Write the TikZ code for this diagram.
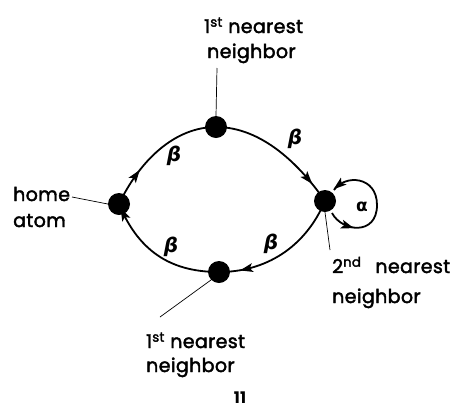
\documentclass[tikz,border=0pt]{standalone}
\usepackage{fontspec}
\setmainfont{Poppins}
\newfontfamily\lblfont{Poppins}[FakeBold=2.2,LetterSpace=2]
\newfontfamily\greek{DejaVu Sans}
\usetikzlibrary{decorations.markings}
\begin{document}
\begin{tikzpicture}[x=1pt,y=-1pt,
  atom/.style={circle,fill=black,inner sep=0pt,minimum size=22pt},
  lbl/.style={font=\fontsize{19}{25}\selectfont\lblfont,inner sep=0pt,anchor=base west},
  grk/.style={font=\fontsize{20}{20}\selectfont\greek\itshape\bfseries,inner sep=0pt},
  lead/.style={line width=0.7pt},
  curve/.style={line width=1.8pt},
  mk/.style={postaction={decorate,decoration={markings,mark=at position #1 with {\fill (6pt,0pt) -- (-7pt,4.5pt) -- (-4pt,0pt) -- (-7pt,-4.5pt) -- cycle;}}}}
]
\useasboundingbox (0,0) rectangle (466,408);
\node[atom] (home) at (119,204) {};
\node[atom] (top) at (216,127) {};
\node[atom] (sec) at (325,201) {};
\node[atom] (bot) at (219,272) {};

\draw[curve,mk=0.26] (home.center) .. controls (140,160) and (175,127) .. (top.center);
\draw[curve,mk=0.8] (top.center) .. controls (262,127) and (300,165) .. (sec.center);
\draw[curve,mk=0.8] (sec.center) .. controls (305,248) and (265,272) .. (bot.center);
\draw[curve,mk=0.92] (bot.center) .. controls (175,272) and (140,255) .. (home.center);

\coordinate (l1) at (332,213);
\coordinate (l2) at (334,190);
\draw[curve,mk=0.17,mk=0.95] (l1) .. controls (342,232) and (377,236) .. (377,205) .. controls (377,176) and (345,174) .. (l2);

\node[grk] (b1) at (174,156) {β};
\node[grk] (b2) at (295,139) {β};
\node[grk] (b3) at (171,247) {β};
\node[grk] (b4) at (271,244) {β};
\node[font=\fontsize{17}{17}\selectfont\greek\bfseries,inner sep=0pt] (al) at (362,207) {α};

\node[lbl] (t1a) at (204,33) {1\textsuperscript{st} nearest};
\node[lbl] (t1b) at (207,58) {neighbor};
\node[lbl] (t2a) at (13,201) {home};
\node[lbl] (t2b) at (13,227) {atom};
\node[lbl] (t3a) at (332,273) {2\textsuperscript{nd}\hspace{14pt}nearest};
\node[lbl] (t3b) at (332,303) {neighbor};
\node[lbl] (t4a) at (146,348) {1\textsuperscript{st} nearest};
\node[lbl] (t4b) at (146,372) {neighbor};
\node[font=\fontsize{16}{16}\selectfont\rmfamily\bfseries,inner sep=0pt] (num) at (240,398) {11};

\coordinate (a1) at (217,68);
\coordinate (a2) at (72,197);
\coordinate (a3) at (330,250);
\coordinate (a4) at (160,317);
\draw[lead] (a1) -- (top.north);
\draw[lead] (a2) -- (home.west);
\draw[lead] (a3) -- (sec.south);
\draw[lead] (a4) -- (bot.south west);
\end{tikzpicture}
\end{document}
